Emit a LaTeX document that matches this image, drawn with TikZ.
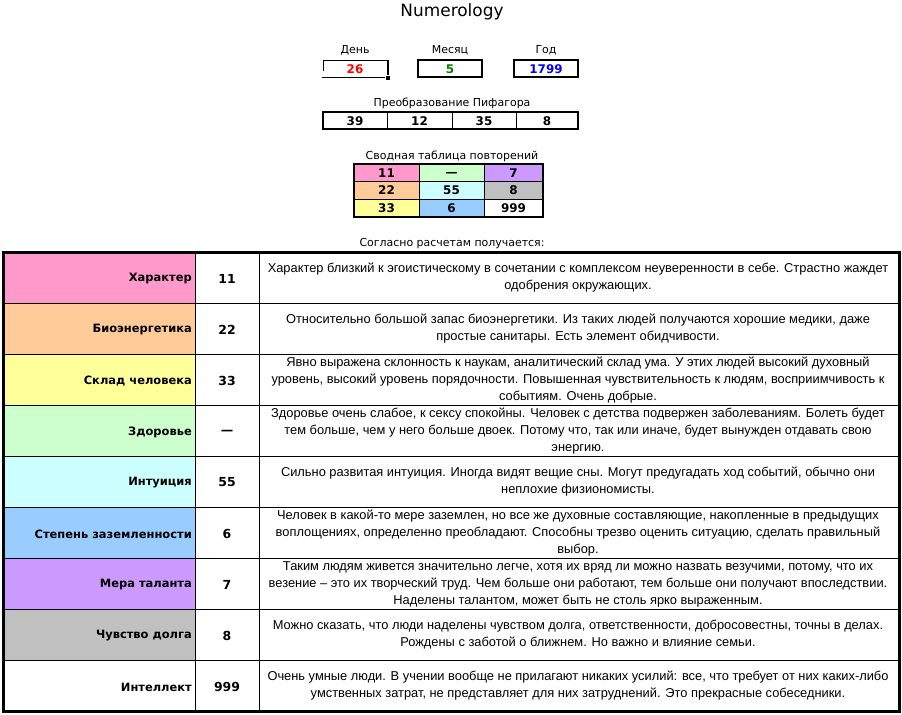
\documentclass[tikz,border=0pt]{standalone}
\usepackage{fontspec}
\setmainfont{Liberation Sans}
\newfontfamily\dvs{DejaVu Sans}
\definecolor{cpink}{HTML}{FF99CC}
\definecolor{cgreen}{HTML}{CCFFCC}
\definecolor{clav}{HTML}{CC99FF}
\definecolor{cpeach}{HTML}{FFCC99}
\definecolor{ccyan}{HTML}{CCFFFF}
\definecolor{cgrey}{HTML}{C0C0C0}
\definecolor{cyel}{HTML}{FFFF99}
\definecolor{cblue}{HTML}{99CCFF}
\definecolor{dgreen}{HTML}{008000}
\begin{document}
\begin{tikzpicture}[x=1bp,y=-1bp,
  titlestyle/.style={font={\dvs\fontsize{17}{20}\selectfont}},
  toplabel/.style={font={\dvs\fontsize{11}{13}\selectfont}, inner sep=0pt},
  boxnum/.style={font={\dvs\bfseries\fontsize{12}{14}\selectfont}, inner sep=0pt},
  rowlab/.style={font={\dvs\bfseries\fontsize{11.5}{14}\selectfont}, anchor=east, inner sep=0pt, yshift=-1.5bp},
  rownum/.style={font={\dvs\bfseries\fontsize{12.5}{14}\selectfont}, inner sep=0pt, yshift=-1bp},
  desc/.style={font={\fontsize{12.9}{17}\selectfont}, align=center, inner sep=0pt},
  thinline/.style={line width=1bp},
  thickline/.style={line width=2bp},
  outerline/.style={line width=3bp}
]
\useasboundingbox (0,0) rectangle (902,715);
\fill[white] (0,0) rectangle (902,715);

% title
\node[titlestyle] (title) at (452,12) {Numerology};

% date labels
\node[toplabel] (dlab) at (355,50) {День};
\node[toplabel] (mlab) at (450,50) {Месяц};
\node[toplabel] (ylab) at (546,50) {Год};

% day box (selected cell look)
\draw[thinline] (322,78) -- (388,78);
\draw[thinline] (323,71) -- (323,61) -- (388,61);
\draw[line width=1.5bp] (388,60) -- (388,76);
\filldraw[fill=black,draw=white,line width=0.8bp] (385,75) rectangle (390.5,80.5);
\draw[thickline] (418,60) rectangle (482,77);
\draw[thickline] (514,60) rectangle (578,77);
\node[boxnum,text=red] (day) at (355,69) {26};
\node[boxnum,text=dgreen] (month) at (450,69) {5};
\node[boxnum,text=blue] (year) at (546,69) {1799};

% Pythagoras
\node[toplabel] (plab) at (452,103) {Преобразование Пифагора};
\draw[thinline] (387,112) -- (387,129) (452,112) -- (452,129) (516,112) -- (516,129);
\draw[thickline] (323,112) rectangle (578,129);
\node[boxnum] (p1) at (355,121) {39};
\node[boxnum] (p2) at (419.5,121) {12};
\node[boxnum] (p3) at (484,121) {35};
\node[boxnum] (p4) at (547,121) {8};

% summary table
\node[toplabel] (slab) at (452,156) {Сводная таблица повторений};
\fill[cpink]  (354,164) rectangle (419,181.5);
\fill[cgreen] (419,164) rectangle (484,181.5);
\fill[clav]   (484,164) rectangle (543,181.5);
\fill[cpeach] (354,181.5) rectangle (419,199);
\fill[ccyan]  (419,181.5) rectangle (484,199);
\fill[cgrey]  (484,181.5) rectangle (543,199);
\fill[cyel]   (354,199) rectangle (419,216.5);
\fill[cblue]  (419,199) rectangle (484,216.5);
\draw[thinline] (354,181.5) -- (543,181.5) (354,199) -- (543,199)
  (419,164) -- (419,216.5) (484,164) -- (484,216.5);
\draw[thickline] (354,164) rectangle (543,216.5);
\node[boxnum] (s11) at (386.5,173) {11};
\node[boxnum] (s12) at (451.5,174) {—};
\node[boxnum] (s13) at (513.5,173) {7};
\node[boxnum] (s21) at (386.5,190.5) {22};
\node[boxnum] (s22) at (451.5,190.5) {55};
\node[boxnum] (s23) at (513.5,190.5) {8};
\node[boxnum] (s31) at (386.5,208) {33};
\node[boxnum] (s32) at (451.5,208) {6};
\node[boxnum] (s33) at (513.5,208) {999};

\node[toplabel] (clab) at (452,244) {Согласно расчетам получается:};

% main table fills
\fill[cpink]  (3,252) rectangle (195,303);
\fill[cpeach] (3,303) rectangle (195,354);
\fill[cyel]   (3,354) rectangle (195,405);
\fill[cgreen] (3,405) rectangle (195,456);
\fill[ccyan]  (3,456) rectangle (195,507);
\fill[cblue]  (3,507) rectangle (195,558);
\fill[clav]   (3,558) rectangle (195,609);
\fill[cgrey]  (3,609) rectangle (195,660);

% row texts
\node[rowlab] (l1) at (192,277.5) {Характер};
\node[rownum] (n1) at (227,277.5) {11};
\node[desc] (d1) at (578,277.5) {Характер близкий к эгоистическому в сочетании с комплексом неуверенности в себе. Страстно жаждет\\одобрения окружающих.};

\node[rowlab] (l2) at (192,328.5) {Биоэнергетика};
\node[rownum] (n2) at (227,328.5) {22};
\node[desc] (d2) at (578,328.5) {Относительно большой запас биоэнергетики. Из таких людей получаются хорошие медики, даже\\простые санитары. Есть элемент обидчивости.};

\node[rowlab] (l3) at (192,379.5) {Склад человека};
\node[rownum] (n3) at (227,379.5) {33};
\node[desc] (d3) at (578,380) {Явно выражена склонность к наукам, аналитический склад ума. У этих людей высокий духовный\\уровень, высокий уровень порядочности. Повышенная чувствительность к людям, восприимчивость к\\событиям. Очень добрые.};

\node[rowlab] (l4) at (192,430.5) {Здоровье};
\node[rownum] (n4) at (227,431) {—};
\node[desc] (d4) at (578,431) {Здоровье очень слабое, к сексу спокойны. Человек с детства подвержен заболеваниям. Болеть будет\\тем больше, чем у него больше двоек. Потому что, так или иначе, будет вынужден отдавать свою\\энергию.};

\node[rowlab] (l5) at (192,481.5) {Интуиция};
\node[rownum] (n5) at (227,481.5) {55};
\node[desc] (d5) at (578,481.5) {Сильно развитая интуиция. Иногда видят вещие сны. Могут предугадать ход событий, обычно они\\неплохие физиономисты.};

\node[rowlab] (l6) at (192,532.5) {Степень заземленности};
\node[rownum] (n6) at (227,532.5) {6};
\node[desc] (d6) at (578,533) {Человек в какой-то мере заземлен, но все же духовные составляющие, накопленные в предыдущих\\воплощениях, определенно преобладают. Способны трезво оценить ситуацию, сделать правильный\\выбор.};

\node[rowlab] (l7) at (192,583.5) {Мера таланта};
\node[rownum] (n7) at (227,583.5) {7};
\node[desc] (d7) at (578,584) {Таким людям живется значительно легче, хотя их вряд ли можно назвать везучими, потому, что их\\везение – это их творческий труд. Чем больше они работают, тем больше они получают впоследствии.\\Наделены талантом, может быть не столь ярко выраженным.};

\node[rowlab] (l8) at (192,634.5) {Чувство долга};
\node[rownum] (n8) at (227,634.5) {8};
\node[desc] (d8) at (578,634.5) {Можно сказать, что люди наделены чувством долга, ответственности, добросовестны, точны в делах.\\Рождены с заботой о ближнем. Но важно и влияние семьи.};

\node[rowlab] (l9) at (192,685.5) {Интеллект};
\node[rownum] (n9) at (227,685.5) {999};
\node[desc] (d9) at (578,685.5) {Очень умные люди. В учении вообще не прилагают никаких усилий: все, что требует от них каких-либо\\умственных затрат, не представляет для них затруднений. Это прекрасные собеседники.};

% grid
\foreach \yy in {303,354,405,456,507,558,609,660}
  \draw[thinline] (3,\yy) -- (899,\yy);
\draw[thinline] (195,252) -- (195,711) (259,252) -- (259,711);
\draw[outerline] (3,252) rectangle (899,711);
\end{tikzpicture}
\end{document}
